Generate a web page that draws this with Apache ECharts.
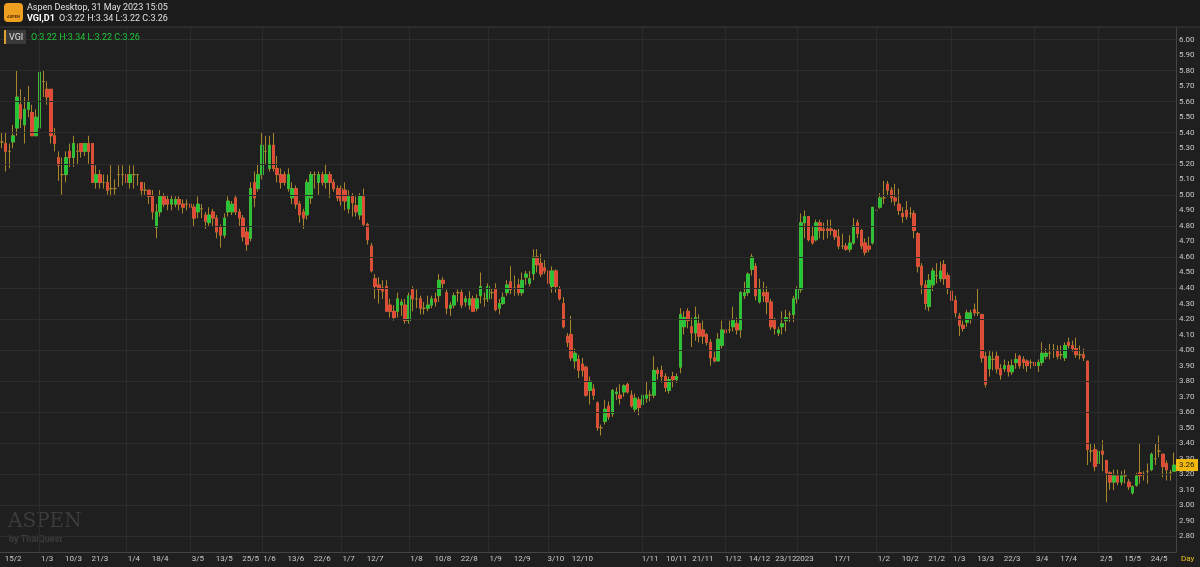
<!DOCTYPE html>
<html>
<head>
<meta charset="utf-8">
<script src="https://cdn.jsdelivr.net/npm/echarts@6/dist/echarts.min.js"></script>
<style>
	html, body { margin: 0; padding: 0; background: #1f1f1f; }
	#chart { width: 1200px; height: 567px; }
</style>
</head>
<body>
<div id="chart"></div>
<script>
// OHLC rows: [open, close, low, high]
var ohlc = [
	[5.34,5.34,5.30,5.40],[5.33,5.28,5.15,5.40],[5.28,5.28,5.17,5.33],[5.34,5.38,5.30,5.45],[5.43,5.63,5.38,5.80],
	[5.58,5.49,5.43,5.68],[5.45,5.55,5.33,5.63],[5.55,5.60,5.50,5.70],[5.53,5.38,5.38,5.58],[5.38,5.50,5.38,5.55],
	[5.43,5.79,5.38,5.80],[5.73,5.73,5.63,5.80],[5.68,5.63,5.58,5.73],[5.68,5.38,5.33,5.68],[5.38,5.33,5.28,5.43],
	[5.24,5.19,5.09,5.28],[5.13,5.13,5.00,5.24],[5.13,5.24,5.08,5.28],[5.28,5.24,5.18,5.33],[5.24,5.33,5.18,5.38],
	[5.28,5.28,5.20,5.33],[5.33,5.28,5.24,5.33],[5.28,5.33,5.25,5.33],[5.33,5.28,5.20,5.38],[5.33,5.08,5.08,5.33],
	[5.08,5.13,5.04,5.19],[5.13,5.08,5.04,5.16],[5.08,5.08,5.04,5.13],[5.08,5.03,5.00,5.13],[5.04,5.04,4.99,5.19],
	[5.04,5.04,5.00,5.10],[5.13,5.13,5.05,5.19],[5.13,5.13,5.06,5.19],[5.13,5.08,5.05,5.19],[5.08,5.13,5.04,5.19],
	[5.13,5.13,5.04,5.19],[5.13,5.13,5.06,5.13],[5.08,5.03,4.99,5.08],[5.03,5.03,5.00,5.08],[5.03,4.99,4.94,5.03],
	[4.99,4.89,4.84,5.03],[4.79,4.89,4.72,4.94],[4.89,4.99,4.86,5.03],[4.99,4.94,4.92,5.01],[4.97,4.94,4.90,5.00],
	[4.94,4.97,4.90,5.00],[4.94,4.97,4.92,4.99],[4.97,4.94,4.90,4.99],[4.94,4.92,4.88,4.97],[4.94,4.94,4.90,4.97],
	[4.94,4.92,4.86,4.96],[4.92,4.85,4.80,4.94],[4.89,4.94,4.85,4.99],[4.91,4.91,4.85,4.94],[4.87,4.83,4.78,4.89],
	[4.82,4.87,4.80,4.92],[4.89,4.85,4.80,4.91],[4.85,4.76,4.72,4.87],[4.79,4.74,4.66,4.81],[4.74,4.85,4.72,4.88],
	[4.89,4.96,4.86,4.99],[4.89,4.94,4.87,4.96],[4.98,4.89,4.87,5.00],[4.89,4.85,4.80,4.91],[4.85,4.73,4.70,4.87],
	[4.76,4.68,4.64,4.79],[4.72,5.04,4.70,5.08],[5.08,4.98,4.92,5.15],[5.04,5.13,5.02,5.20],[5.13,5.32,5.10,5.40],
	[5.28,5.28,5.20,5.38],[5.17,5.32,5.15,5.38],[5.32,5.17,5.15,5.40],[5.17,5.13,5.08,5.25],[5.13,5.08,5.04,5.17],
	[5.13,5.08,5.06,5.15],[5.04,5.13,5.02,5.17],[4.98,5.04,4.94,5.08],[5.04,4.94,4.91,5.06],[4.94,4.87,4.82,4.96],
	[4.89,4.85,4.78,4.91],[4.87,5.08,4.84,5.10],[4.98,5.13,4.94,5.15],[5.13,5.13,5.04,5.15],[5.08,5.13,5.00,5.15],
	[5.13,5.08,5.06,5.15],[5.08,5.13,5.04,5.20],[5.13,5.08,4.98,5.15],[5.08,5.04,5.02,5.10],[5.04,4.98,4.96,5.06],
	[5.04,4.96,4.93,5.06],[5.03,4.96,4.90,5.08],[4.91,4.99,4.88,5.03],[4.99,4.95,4.86,5.01],[4.93,4.89,4.86,4.99],
	[4.87,4.99,4.84,5.01],[4.99,4.81,4.80,5.04],[4.81,4.71,4.68,4.82],[4.67,4.51,4.50,4.69],[4.46,4.41,4.33,4.49],
	[4.42,4.39,4.30,4.47],[4.40,4.38,4.33,4.45],[4.41,4.25,4.25,4.45],[4.29,4.25,4.21,4.33],[4.25,4.21,4.19,4.29],
	[4.25,4.33,4.21,4.37],[4.29,4.31,4.22,4.33],[4.29,4.19,4.17,4.33],[4.19,4.35,4.17,4.37],[4.39,4.33,4.25,4.41],
	[4.33,4.33,4.27,4.39],[4.33,4.27,4.23,4.35],[4.27,4.27,4.23,4.31],[4.27,4.29,4.25,4.35],[4.29,4.33,4.27,4.35],
	[4.33,4.31,4.28,4.37],[4.35,4.45,4.31,4.49],[4.45,4.43,4.39,4.47],[4.37,4.27,4.23,4.39],[4.27,4.29,4.22,4.31],
	[4.29,4.35,4.27,4.37],[4.37,4.37,4.31,4.39],[4.37,4.29,4.27,4.39],[4.31,4.33,4.28,4.35],[4.29,4.33,4.26,4.38],
	[4.33,4.25,4.25,4.35],[4.27,4.33,4.25,4.36],[4.35,4.41,4.30,4.50],[4.33,4.33,4.28,4.37],[4.33,4.41,4.31,4.43],
	[4.37,4.37,4.33,4.40],[4.39,4.26,4.25,4.43],[4.27,4.30,4.23,4.33],[4.30,4.34,4.29,4.37],[4.37,4.42,4.35,4.45],
	[4.44,4.39,4.36,4.54],[4.40,4.40,4.35,4.48],[4.42,4.37,4.35,4.46],[4.37,4.45,4.35,4.50],[4.47,4.49,4.42,4.51],
	[4.43,4.46,4.41,4.51],[4.49,4.60,4.45,4.65],[4.60,4.55,4.50,4.65],[4.56,4.49,4.47,4.62],[4.53,4.51,4.49,4.58],
	[4.51,4.43,4.35,4.55],[4.41,4.51,4.37,4.54],[4.51,4.41,4.37,4.52],[4.39,4.33,4.32,4.41],[4.30,4.15,4.14,4.34],
	[4.09,4.05,4.02,4.11],[4.10,3.95,3.93,4.22],[3.93,3.98,3.88,4.01],[3.94,3.87,3.82,3.97],[3.91,3.87,3.83,3.95],
	[3.89,3.71,3.70,3.90],[3.74,3.80,3.65,3.83],[3.75,3.71,3.68,3.78],[3.66,3.50,3.48,3.67],[3.50,3.50,3.45,3.52],
	[3.54,3.62,3.52,3.68],[3.64,3.57,3.55,3.67],[3.59,3.74,3.57,3.75],[3.72,3.73,3.68,3.76],[3.71,3.69,3.65,3.78],
	[3.73,3.77,3.70,3.78],[3.78,3.73,3.72,3.79],[3.71,3.64,3.63,3.74],[3.62,3.69,3.60,3.72],[3.68,3.63,3.58,3.70],
	[3.65,3.71,3.62,3.75],[3.69,3.71,3.66,3.80],[3.71,3.71,3.67,3.74],[3.71,3.87,3.69,3.96],[3.87,3.85,3.81,3.89],
	[3.87,3.83,3.79,3.90],[3.83,3.76,3.73,3.85],[3.74,3.81,3.72,3.83],[3.83,3.81,3.76,3.86],[3.81,3.83,3.79,3.85],
	[3.89,4.23,3.85,4.27],[4.15,4.21,4.10,4.25],[4.25,4.19,4.14,4.27],[4.15,4.11,4.02,4.21],[4.11,4.21,4.06,4.28],
	[4.17,4.09,4.05,4.23],[4.13,4.09,4.04,4.19],[4.10,4.05,4.03,4.11],[4.05,3.95,3.90,4.07],[3.95,3.93,3.92,3.99],
	[3.93,4.07,3.93,4.11],[4.03,4.13,4.01,4.19],[4.13,4.11,4.09,4.17],[4.13,4.13,4.11,4.19],[4.15,4.19,4.12,4.28],
	[4.17,4.13,4.10,4.21],[4.13,4.37,4.08,4.38],[4.35,4.37,4.33,4.44],[4.37,4.49,4.35,4.50],[4.52,4.60,4.48,4.62],
	[4.54,4.35,4.32,4.56],[4.31,4.39,4.30,4.46],[4.37,4.35,4.31,4.44],[4.37,4.31,4.23,4.41],[4.31,4.15,4.13,4.33],
	[4.19,4.14,4.10,4.21],[4.11,4.13,4.09,4.15],[4.15,4.17,4.10,4.25],[4.19,4.21,4.12,4.26],[4.23,4.23,4.18,4.25],
	[4.23,4.33,4.18,4.35],[4.33,4.39,4.30,4.41],[4.39,4.82,4.37,4.88],[4.82,4.86,4.72,4.90],[4.86,4.71,4.70,4.86],
	[4.73,4.69,4.68,4.80],[4.71,4.82,4.70,4.84],[4.82,4.77,4.72,4.84],[4.78,4.77,4.71,4.82],[4.78,4.77,4.72,4.84],
	[4.78,4.77,4.74,4.84],[4.77,4.73,4.71,4.78],[4.73,4.67,4.65,4.78],[4.67,4.67,4.65,4.75],[4.67,4.65,4.64,4.69],
	[4.65,4.69,4.63,4.74],[4.69,4.80,4.68,4.85],[4.82,4.75,4.72,4.84],[4.77,4.67,4.65,4.78],[4.69,4.63,4.61,4.72],
	[4.67,4.65,4.63,4.73],[4.69,4.92,4.68,4.92],[4.90,4.90,4.76,4.98],[4.92,4.98,4.91,5.01],[4.98,4.98,4.94,5.09],
	[5.07,5.03,4.99,5.09],[5.03,4.98,4.95,5.05],[4.98,4.96,4.93,5.07],[4.94,4.90,4.87,5.04],[4.88,4.86,4.82,4.92],
	[4.90,4.86,4.84,4.96],[4.88,4.88,4.85,4.92],[4.88,4.77,4.72,4.90],[4.75,4.54,4.50,4.76],[4.54,4.42,4.36,4.56],
	[4.42,4.30,4.26,4.45],[4.28,4.45,4.25,4.49],[4.42,4.51,4.38,4.53],[4.48,4.48,4.43,4.56],[4.46,4.51,4.44,4.57],
	[4.55,4.46,4.42,4.58],[4.48,4.40,4.36,4.50],[4.38,4.32,4.29,4.40],[4.32,4.24,4.21,4.35],[4.22,4.16,4.09,4.24],
	[4.16,4.14,4.12,4.19],[4.18,4.24,4.15,4.26],[4.20,4.24,4.17,4.26],[4.26,4.24,4.22,4.30],[4.24,4.24,4.22,4.40],
	[4.23,3.95,3.92,4.23],[3.96,3.78,3.76,3.99],[3.88,3.96,3.83,4.00],[3.94,3.94,3.87,3.99],[3.96,3.88,3.85,3.99],
	[3.88,3.84,3.81,3.91],[3.88,3.90,3.86,3.94],[3.90,3.86,3.83,3.93],[3.86,3.90,3.84,3.94],[3.92,3.94,3.88,3.98],
	[3.96,3.90,3.88,3.97],[3.94,3.92,3.88,3.96],[3.93,3.90,3.86,3.94],[3.92,3.92,3.88,3.94],[3.92,3.90,3.87,3.94],
	[3.90,3.92,3.86,3.94],[3.92,3.98,3.90,4.05],[3.96,3.98,3.94,4.01],[3.98,3.98,3.94,4.04],[4.00,4.00,3.95,4.04],
	[4.00,3.96,3.94,4.03],[3.97,3.97,3.94,4.03],[3.95,4.03,3.93,4.05],[4.05,4.03,4.01,4.08],[4.03,4.01,3.99,4.06],
	[4.01,3.97,3.95,4.08],[3.97,3.97,3.94,4.03],[3.97,3.95,3.93,4.01],[3.93,3.36,3.26,3.93],[3.35,3.35,3.28,3.40],
	[3.36,3.25,3.22,3.40],[3.27,3.35,3.24,3.40],[3.35,3.33,3.22,3.42],[3.29,3.21,3.02,3.29],[3.21,3.15,3.10,3.22],
	[3.15,3.19,3.10,3.23],[3.19,3.15,3.13,3.23],[3.15,3.19,3.13,3.22],[3.19,3.19,3.14,3.23],[3.15,3.12,3.10,3.17],
	[3.08,3.12,3.07,3.13],[3.13,3.19,3.12,3.21],[3.21,3.19,3.14,3.40],[3.20,3.20,3.16,3.22],[3.22,3.22,3.14,3.27],
	[3.23,3.33,3.22,3.34],[3.30,3.30,3.26,3.40],[3.35,3.35,3.31,3.45],[3.33,3.25,3.18,3.33],[3.27,3.23,3.16,3.29],
	[3.21,3.21,3.16,3.23],[3.22,3.26,3.22,3.34]
];
var categories = ohlc.map(function (d, i) { return i; });
// axis labels: [candle index, text]
var dateLabels = [
	[3,'15/2'],[12,'1/3'],[19,'10/3'],[26,'21/3'],[35,'1/4'],[42,'18/4'],[52,'3/5'],[59,'13/5'],[66,'25/5'],
	[71,'1/6'],[78,'13/6'],[85,'22/6'],[92,'1/7'],[99,'12/7'],[110,'1/8'],[117,'10/8'],[124,'22/8'],[131,'1/9'],
	[138,'12/9'],[147,'3/10'],[154,'12/10'],[172,'1/11'],[179,'10/11'],[186,'21/11'],[194,'1/12'],[201,'14/12'],
	[208,'23/12'],[213,'2023'],[223,'17/1'],[234,'1/2'],[241,'10/2'],[248,'21/2'],[254,'1/3'],[261,'13/3'],
	[268,'22/3'],[276,'3/4'],[283,'17/4'],[293,'2/5'],[300,'15/5'],[307,'24/5']
];
var monthStarts = [10,33,50,69,90,108,129,145,170,192,211,232,252,274,291];
var gridLevels = [2.8,3.0,3.2,3.4,3.6,3.8,4.0,4.2,4.4,4.6,4.8,5.0,5.2,5.4,5.6,5.8,6.0];
var lastClose = 3.26;

var labelMap = {};
dateLabels.forEach(function (d) { labelMap[d[0]] = d[1]; });

// bodies only; doji rows left to the wick series (drawn gold)
var bodies = ohlc.map(function (d) {
	if (d[0] === d[1]) return '-';
	return [d[0], d[1], Math.min(d[0], d[1]), Math.max(d[0], d[1])];
});

var gridLines = gridLevels.map(function (v) { return { yAxis: v }; })
	.concat(monthStarts.map(function (i) { return { xAxis: i }; }));

var chart = echarts.init(document.getElementById('chart'));
var option = {
	backgroundColor: '#1f1f1f',
	animation: false,
	grid: { left: 0, right: 24, top: 24, bottom: 15 },
	xAxis: {
		type: 'category',
		data: categories,
		axisLine: { lineStyle: { color: '#444' } },
		axisTick: { show: false },
		axisLabel: {
			interval: function (i) { return labelMap[i] !== undefined; },
			formatter: function (v) { return labelMap[v] || ''; },
			color: '#c8c8c8', fontSize: 8, margin: 3, fontFamily: 'Roboto'
		},
		splitLine: { show: false }
	},
	yAxis: {
		type: 'value',
		position: 'right',
		min: 2.7, max: 6.1, interval: 0.1,
		axisLine: { show: true, lineStyle: { color: '#444' } },
		axisTick: { show: false },
		splitLine: { show: false },
		axisLabel: {
			color: '#c8c8c8', fontSize: 8, margin: 3, fontFamily: 'Roboto',
			showMinLabel: false, showMaxLabel: false,
			formatter: function (v) { return v.toFixed(2); }
		}
	},
	series: [{
		name: 'wick',
		type: 'candlestick',
		data: ohlc,
		barWidth: 3,
		itemStyle: {
			color: '#e0b84a', color0: '#e0b84a',
			borderColor: '#a8862e', borderColor0: '#a8862e', borderWidth: 1
		},
		markLine: {
			silent: true, symbol: 'none', label: { show: false },
			lineStyle: { color: '#2c2c2c', type: 'solid', width: 1 },
			data: gridLines
		},
		z: 2
	}, {
		name: 'VGI',
		type: 'candlestick',
		data: bodies,
		barWidth: 3,
		itemStyle: {
			color: '#1ec83a', color0: '#e5463a',
			borderColor: '#1ec83a', borderColor0: '#e5463a', borderWidth: 0.5
		},
		z: 3
	}]
};
chart.setOption(option);

var tagY = chart.convertToPixel({ yAxisIndex: 0 }, lastClose);
chart.setOption({
	graphic: [
		{ type: 'rect', shape: { x: 0, y: 0, width: 1200, height: 27 }, style: { fill: '#1b1b1b' }, z: 10 },
		{ type: 'line', shape: { x1: 0, y1: 27, x2: 1200, y2: 27 }, style: { stroke: '#3a3a3a' }, z: 10 },
		{ type: 'rect', shape: { x: 4, y: 3, width: 19, height: 19, r: 4 }, style: { fill: '#f0a020' }, z: 11 },
		{ type: 'text', x: 13.5, y: 15, style: { text: 'ASPEN', fill: '#5a2a00', font: 'bold 4px Roboto', align: 'center' }, z: 12 },
		{ type: 'text', x: 27, y: 3, style: { text: 'Aspen Desktop, 31 May 2023 15:05', fill: '#e0e0e0', font: '9px Roboto' }, z: 11 },
		{ type: 'text', x: 27, y: 14, style: { text: 'VGI,D1', fill: '#ffffff', font: 'bold 9px Roboto' }, z: 11 },
		{ type: 'text', x: 59, y: 14, style: { text: 'O:3.22 H:3.34 L:3.22 C:3.26', fill: '#e0e0e0', font: '9px Roboto' }, z: 11 },
		{ type: 'rect', shape: { x: 4, y: 30, width: 22, height: 14 }, style: { fill: '#3a3a3a' }, z: 11 },
		{ type: 'rect', shape: { x: 4, y: 30, width: 2, height: 14 }, style: { fill: '#e0a030' }, z: 12 },
		{ type: 'text', x: 9, y: 33, style: { text: 'VGI', fill: '#e0e0e0', font: '9px Roboto' }, z: 12 },
		{ type: 'text', x: 31, y: 33, style: { text: 'O:3.22 H:3.34 L:3.22 C:3.26', fill: '#1ec83a', font: '9px Roboto' }, z: 12 },
		{ type: 'text', x: 8, y: 512, style: { text: 'ASPEN', fill: '#3c3c3c', font: '20px "DejaVu Serif"' }, z: 1 },
		{ type: 'text', x: 9, y: 535, style: { text: 'by ThaiQuest', fill: '#3c3c3c', font: 'bold 9px Roboto' }, z: 1 },
		{ type: 'rect', shape: { x: 1176, y: tagY - 6, width: 22, height: 12 }, style: { fill: '#f0b90b' }, z: 11 },
		{ type: 'text', x: 1179, y: tagY - 4, style: { text: lastClose.toFixed(2), fill: '#1a1a1a', font: '8px Roboto' }, z: 12 },
		{ type: 'text', x: 1181, y: 555, style: { text: 'Day', fill: '#e8c020', font: '8px Roboto' }, z: 11 }
	]
});
</script>
</body>
</html>
